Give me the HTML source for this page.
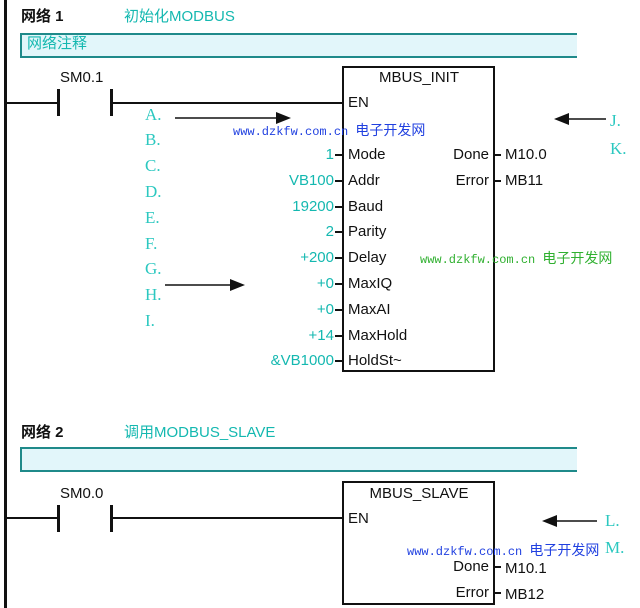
<!DOCTYPE html>
<html><head><meta charset="utf-8"><style>
body{margin:0;width:640px;height:608px;background:#fff;position:relative;overflow:hidden;font-family:"Liberation Sans","Noto Sans CJK SC",sans-serif;}
.a{position:absolute;white-space:nowrap;line-height:1;}
.t{color:#14b8b0;}
.k{color:#111;}
.s{font-family:"Liberation Serif","Noto Serif CJK SC",serif;color:#2cc8c0;font-size:17px;}
.l{position:absolute;background:#111;}
.r{text-align:right;}
</style></head><body>
<div class="l" style="left:4px;top:0;width:3px;height:608px"></div>

<div class="a k" style="left:21px;top:9px;font-size:15px;font-weight:bold">网络 1</div>
<div class="a t" style="left:124px;top:9px;font-size:15px">初始化MODBUS</div>
<div style="position:absolute;left:20px;top:33px;width:555px;height:21px;background:#e2f6fa;border:2px solid #1f8a8a;border-right:none"></div>
<div class="a t" style="left:27px;top:36px;font-size:15px">网络注释</div>

<div class="a k" style="left:60px;top:70px;font-size:15px">SM0.1</div>
<div class="l" style="left:5px;top:102px;width:53px;height:2px"></div>
<div class="l" style="left:57px;top:89px;width:3px;height:27px"></div>
<div class="l" style="left:110px;top:89px;width:3px;height:27px"></div>
<div class="l" style="left:112px;top:102px;width:231px;height:2px"></div>
<div style="position:absolute;left:342px;top:66px;width:149px;height:302px;border:2.5px solid #111"></div>
<div class="a k" style="left:342px;top:70px;width:154px;text-align:center;font-size:15px">MBUS_INIT</div>
<div class="a k" style="left:348px;top:95px;font-size:15px">EN</div>

<div class="a s" style="left:145px;top:106px">A.</div>
<div class="a s" style="left:145px;top:131px">B.</div>
<div class="a s" style="left:145px;top:157px">C.</div>
<div class="a s" style="left:145px;top:183px">D.</div>
<div class="a s" style="left:145px;top:209px">E.</div>
<div class="a s" style="left:145px;top:235px">F.</div>
<div class="a s" style="left:145px;top:260px">G.</div>
<div class="a s" style="left:145px;top:286px">H.</div>
<div class="a s" style="left:145px;top:312px">I.</div>
<div class="a s" style="left:610px;top:112px">J.</div>
<div class="a s" style="left:610px;top:140px">K.</div>
<div class="a s" style="left:605px;top:512px">L.</div>
<div class="a s" style="left:605px;top:539px">M.</div>

<svg width="640" height="608" style="position:absolute;left:0;top:0">
<line x1="175" y1="118" x2="278" y2="118" stroke="#111" stroke-width="1.5"/><polygon points="276,112 291,118 276,124" fill="#111"/>
<line x1="165" y1="285" x2="232" y2="285" stroke="#111" stroke-width="1.5"/><polygon points="230,279 245,285 230,291" fill="#111"/>
<line x1="567" y1="119" x2="606" y2="119" stroke="#111" stroke-width="1.5"/><polygon points="569,113 554,119 569,125" fill="#111"/>
<line x1="555" y1="521" x2="597" y2="521" stroke="#111" stroke-width="1.5"/><polygon points="557,515 542,521 557,527" fill="#111"/>
</svg>

<div class="a" style="left:233px;top:123px;font-size:12px;color:#2040e0;font-family:'Liberation Mono','Noto Sans CJK SC',monospace">www.dzkfw.com.cn <span style="font-family:'Noto Sans CJK SC',sans-serif;font-size:14px">电子开发网</span></div>

<div style="position:absolute;left:230px;top:142px;width:104px;font-size:15px;line-height:25.8px" class="t r">1<br>VB100<br>19200<br>2<br>+200<br>+0<br>+0<br>+14<br>&amp;VB1000</div>
<div style="position:absolute;left:348px;top:142px;font-size:15px;line-height:25.8px" class="k">Mode<br>Addr<br>Baud<br>Parity<br>Delay<br>MaxIQ<br>MaxAI<br>MaxHold<br>HoldSt~</div>
<svg width="640" height="608" style="position:absolute;left:0;top:0">
<g stroke="#111" stroke-width="2">
<line x1="335" y1="155" x2="343" y2="155"/><line x1="335" y1="181" x2="343" y2="181"/><line x1="335" y1="207" x2="343" y2="207"/><line x1="335" y1="232" x2="343" y2="232"/><line x1="335" y1="258" x2="343" y2="258"/><line x1="335" y1="284" x2="343" y2="284"/><line x1="335" y1="310" x2="343" y2="310"/><line x1="335" y1="336" x2="343" y2="336"/><line x1="335" y1="361" x2="343" y2="361"/>
<line x1="493" y1="155" x2="501" y2="155"/><line x1="493" y1="181" x2="501" y2="181"/>
<line x1="493" y1="567" x2="501" y2="567"/><line x1="493" y1="593" x2="501" y2="593"/>
</g></svg>
<div class="a k r" style="left:420px;top:147px;width:69px;font-size:15px">Done</div>
<div class="a k r" style="left:420px;top:173px;width:69px;font-size:15px">Error</div>
<div class="a k" style="left:505px;top:147px;font-size:15px">M10.0</div>
<div class="a k" style="left:505px;top:173px;font-size:15px">MB11</div>

<div class="a" style="left:420px;top:251px;font-size:12px;color:#30b030;font-family:'Liberation Mono','Noto Sans CJK SC',monospace">www.dzkfw.com.cn <span style="font-family:'Noto Sans CJK SC',sans-serif;font-size:14px">电子开发网</span></div>

<div class="a k" style="left:21px;top:425px;font-size:15px;font-weight:bold">网络 2</div>
<div class="a t" style="left:124px;top:425px;font-size:15px">调用MODBUS_SLAVE</div>
<div style="position:absolute;left:20px;top:447px;width:555px;height:21px;background:#e2f6fa;border:2px solid #1f8a8a;border-right:none"></div>

<div class="a k" style="left:60px;top:486px;font-size:15px">SM0.0</div>
<div class="l" style="left:5px;top:517px;width:53px;height:2px"></div>
<div class="l" style="left:57px;top:505px;width:3px;height:27px"></div>
<div class="l" style="left:110px;top:505px;width:3px;height:27px"></div>
<div class="l" style="left:112px;top:517px;width:231px;height:2px"></div>
<div style="position:absolute;left:342px;top:481px;width:149px;height:120px;border:2.5px solid #111"></div>
<div class="a k" style="left:342px;top:486px;width:154px;text-align:center;font-size:15px">MBUS_SLAVE</div>
<div class="a k" style="left:348px;top:511px;font-size:15px">EN</div>
<div class="a" style="left:407px;top:543px;font-size:12px;color:#2040e0;font-family:'Liberation Mono','Noto Sans CJK SC',monospace">www.dzkfw.com.cn <span style="font-family:'Noto Sans CJK SC',sans-serif;font-size:14px">电子开发网</span></div>
<div class="a k r" style="left:420px;top:559px;width:69px;font-size:15px">Done</div>
<div class="a k r" style="left:420px;top:585px;width:69px;font-size:15px">Error</div>
<div class="a k" style="left:505px;top:561px;font-size:15px">M10.1</div>
<div class="a k" style="left:505px;top:587px;font-size:15px">MB12</div>
</body></html>
